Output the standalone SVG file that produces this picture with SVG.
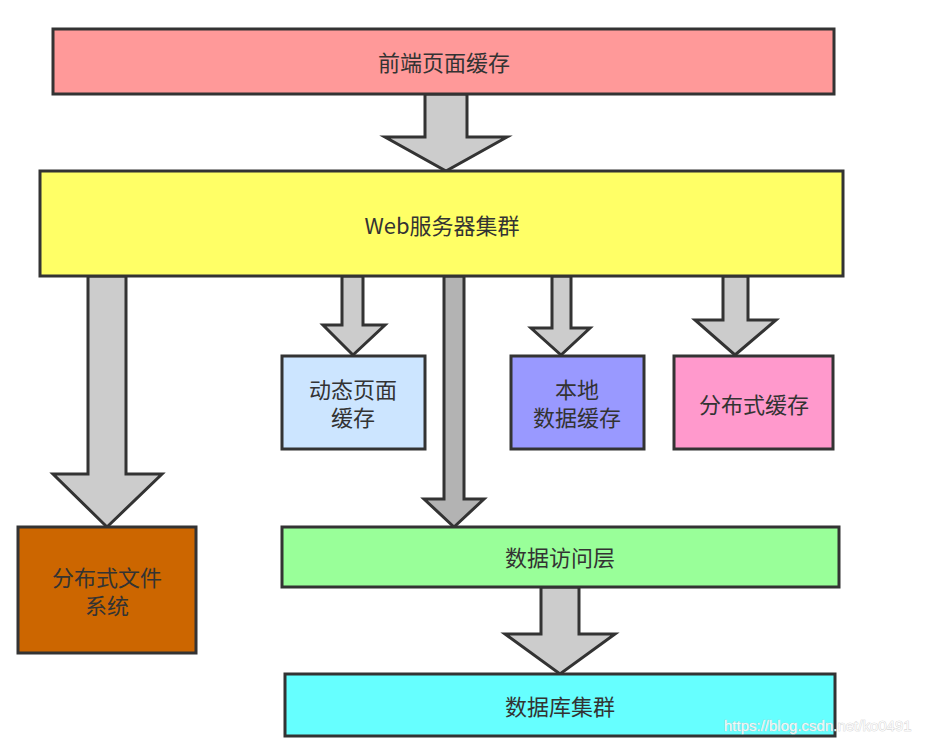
<svg xmlns="http://www.w3.org/2000/svg" width="930" height="743" viewBox="0 0 930 743">
<style>
.box{stroke:#333;stroke-width:3}
.arr{fill:#cccccc;stroke:#333;stroke-width:3;stroke-linejoin:miter}
.t{font-family:"Noto Sans CJK SC","Noto Sans",sans-serif;font-size:22px;fill:#333;text-anchor:middle;dominant-baseline:central}
.wm{font-family:"Liberation Sans",Arial,sans-serif;font-size:15px;fill:#ffffff;fill-opacity:0.85;stroke:#c8c8c8;stroke-width:0.6;paint-order:stroke}
</style>
<rect width="930" height="743" fill="#fff"/>
<g id="connectors">
<polygon class="arr" points="425,94 467,94 467,137 507,137 446,171 385,137 425,137"/>
<polygon class="arr" points="88,276 126,276 126,474 162,474 107,527 53,474 88,474"/>
<polygon class="arr" points="342,276 363,276 363,325 385,325 353,355 323,325 342,325"/>
<polygon class="arr" style="fill:#b3b3b3" points="444,276 464,276 464,499 484,499 454,527 424,499 444,499"/>
<polygon class="arr" points="552,276 571,276 571,328 590,328 561,355 531,328 552,328"/>
<polygon class="arr" points="723,276 748,276 748,320 776,320 735,355 695,320 723,320"/>
<polygon class="arr" points="541,587 579,587 579,634 615,634 560,674 505,634 541,634"/>
</g>
<g id="frontend-cache">
<rect class="box" x="53" y="29" width="781" height="65" fill="#ff9999"/>
<text class="t" x="444" y="61">前端页面缓存</text>
</g>
<g id="web-cluster">
<rect class="box" x="40" y="171" width="803" height="105" fill="#ffff66"/>
<text class="t" x="442" y="224">Web服务器集群</text>
</g>
<g id="dynamic-cache">
<rect class="box" x="282" y="356" width="143" height="93" fill="#cce5ff"/>
<text class="t" x="353" y="388">动态页面<tspan x="353" dy="28">缓存</tspan></text>
</g>
<g id="local-cache">
<rect class="box" x="511" y="356" width="133" height="93" fill="#9999ff"/>
<text class="t" x="577" y="388">本地<tspan x="577" dy="28">数据缓存</tspan></text>
</g>
<g id="distributed-cache">
<rect class="box" x="674" y="356" width="159" height="93" fill="#ff99cc"/>
<text class="t" x="754" y="403">分布式缓存</text>
</g>
<g id="distributed-fs">
<rect class="box" x="18" y="527" width="178" height="126" fill="#cc6600"/>
<text class="t" x="107" y="576">分布式文件<tspan x="107" dy="28">系统</tspan></text>
</g>
<g id="data-access">
<rect class="box" x="282" y="527" width="557" height="60" fill="#99ff99"/>
<text class="t" x="560" y="556">数据访问层</text>
</g>
<g id="db-cluster">
<rect class="box" x="285" y="674" width="550" height="62" fill="#66ffff"/>
<text class="t" x="560" y="705">数据库集群</text>
</g>
<text class="wm" x="724" y="731">https://blog.csdn.net/ko0491</text>
</svg>
